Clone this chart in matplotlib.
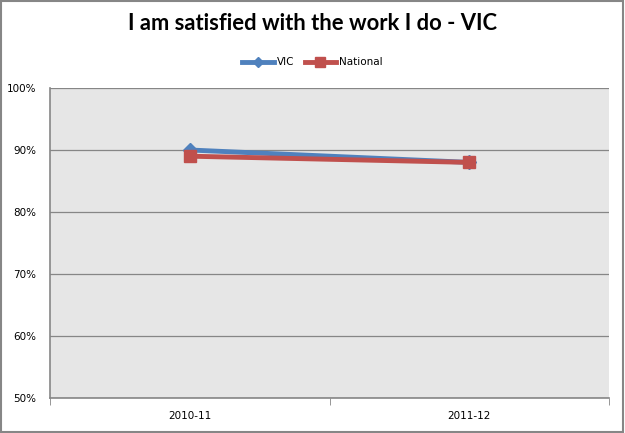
import matplotlib.pyplot as plt
from matplotlib.patches import Rectangle

# data
periods = ['2010-11', '2011-12']
vic = [90, 88]
national = [89, 88]
y_ticks = [50, 60, 70, 80, 90, 100]

fig = plt.figure(figsize=(6.25, 4.33), dpi=100)
ax = fig.add_axes([0.08, 0.0808, 0.8944, 0.716])
ax.set_facecolor('#e6e6e6')

x = list(range(len(periods)))
ax.plot(x, vic, color='#4f81bd', lw=3.5, marker='D', ms=7, label='VIC', zorder=3)
ax.plot(x, national, color='#c0504d', lw=3.5, marker='s', ms=9, label='National', zorder=4)

ax.set_xlim(-0.5, 1.5)
ax.set_ylim(50, 100)
ax.set_yticks(y_ticks)
ax.set_yticklabels([str(v) + '%' for v in y_ticks], fontsize=7.5)
ax.set_xticks(x)
ax.set_xticklabels(periods, fontsize=7.5)
ax.tick_params(axis='x', length=0, pad=9)
ax.tick_params(axis='y', length=0, pad=10)
ax.set_xticks([-0.5, 0.5, 1.5], minor=True)
ax.tick_params(axis='x', which='minor', length=5, color='#868686', direction='out')

ax.grid(axis='y', color='#868686', lw=0.9)
ax.set_axisbelow(True)
for s in ['top', 'right']:
    ax.spines[s].set_visible(False)
for s in ['left', 'bottom']:
    ax.spines[s].set_color('#868686')
    ax.spines[s].set_linewidth(1.2)

fig.text(0.5, 0.945, 'I am satisfied with the work I do - VIC', ha='center', va='center',
         fontsize=15.8, fontweight='bold', family='Lato')
ax.legend(loc='center', bbox_to_anchor=(0.5, 0.856), bbox_transform=fig.transFigure,
          ncol=2, frameon=False, fontsize=7.5, handlelength=3, columnspacing=1,
          handletextpad=0.3, markerscale=0.8)

fig.patches.append(Rectangle((0.002, 0.003), 0.995, 0.994, transform=fig.transFigure,
                             fill=False, edgecolor='#868686', lw=1.5))

plt.savefig('out.png', dpi=100)
